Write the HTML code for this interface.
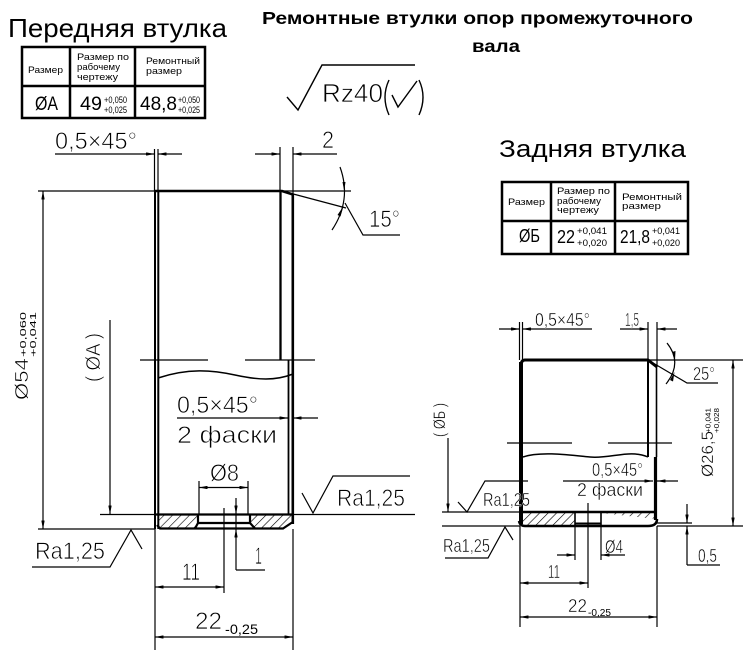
<!DOCTYPE html>
<html><head><meta charset="utf-8"><style>html,body{margin:0;padding:0;background:#fff;}svg{display:block;}</style></head>
<body>
<svg width="750" height="653" viewBox="0 0 750 653" xmlns="http://www.w3.org/2000/svg" font-family="'Liberation Sans', sans-serif">
<defs>
<marker id="ar" viewBox="0 0 10 4" refX="10" refY="2" markerWidth="9" markerHeight="3.4" markerUnits="userSpaceOnUse" orient="auto-start-reverse"><path d="M0,0L10,2L0,4z" fill="#000"/></marker>
<pattern id="h" width="6" height="6" patternUnits="userSpaceOnUse" patternTransform="rotate(45)"><line x1="0" y1="0" x2="0" y2="6" stroke="#000" stroke-width="1.2"/></pattern>
</defs>
<rect width="750" height="653" fill="#fff"/>

<!-- Titles -->
<text x="8" y="37" font-size="26" textLength="219" lengthAdjust="spacingAndGlyphs">Передняя втулка</text>
<text x="262" y="24" font-size="17.5" font-weight="bold" textLength="431" lengthAdjust="spacingAndGlyphs">Ремонтные втулки опор промежуточного</text>
<text x="472" y="52" font-size="17.5" font-weight="bold" textLength="48" lengthAdjust="spacingAndGlyphs">вала</text>
<text x="499" y="157" font-size="24" textLength="187" lengthAdjust="spacingAndGlyphs">Задняя втулка</text>

<!-- Table 1 -->
<g fill="none" stroke="#000" stroke-width="2.5">
<rect x="22" y="47" width="183" height="71"/>
<line x1="70" y1="47" x2="70" y2="118"/>
<line x1="135" y1="47" x2="135" y2="118"/>
<line x1="22" y1="86" x2="205" y2="86"/>
</g>
<g font-size="9.5">
<text x="28" y="73" textLength="35" lengthAdjust="spacingAndGlyphs">Размер</text>
<text x="77" y="60" textLength="52" lengthAdjust="spacingAndGlyphs">Размер по</text>
<text x="77" y="70" textLength="43" lengthAdjust="spacingAndGlyphs">рабочему</text>
<text x="77" y="80" textLength="41" lengthAdjust="spacingAndGlyphs">чертежу</text>
<text x="146" y="64" textLength="54" lengthAdjust="spacingAndGlyphs">Ремонтный</text>
<text x="146" y="74" textLength="36" lengthAdjust="spacingAndGlyphs">размер</text>
</g>
<text x="35" y="110" font-size="19" textLength="23" lengthAdjust="spacingAndGlyphs">ØA</text>
<text x="80" y="110" font-size="19" textLength="22" lengthAdjust="spacingAndGlyphs">49</text>
<text x="104" y="103" font-size="9" textLength="23" lengthAdjust="spacingAndGlyphs">+0,050</text>
<text x="104" y="113" font-size="9" textLength="23" lengthAdjust="spacingAndGlyphs">+0,025</text>
<text x="140" y="110" font-size="19" textLength="37" lengthAdjust="spacingAndGlyphs">48,8</text>
<text x="178" y="103" font-size="9" textLength="22" lengthAdjust="spacingAndGlyphs">+0,050</text>
<text x="178" y="113" font-size="9" textLength="22" lengthAdjust="spacingAndGlyphs">+0,025</text>

<!-- Table 2 -->
<g fill="none" stroke="#000" stroke-width="2.5">
<rect x="502" y="182" width="186" height="72"/>
<line x1="551" y1="182" x2="551" y2="254"/>
<line x1="615" y1="182" x2="615" y2="254"/>
<line x1="502" y1="221" x2="688" y2="221"/>
</g>
<g font-size="9.5">
<text x="508" y="205" textLength="37" lengthAdjust="spacingAndGlyphs">Размер</text>
<text x="557" y="194" textLength="53" lengthAdjust="spacingAndGlyphs">Размер по</text>
<text x="557" y="204" textLength="44" lengthAdjust="spacingAndGlyphs">рабочему</text>
<text x="557" y="213" textLength="42" lengthAdjust="spacingAndGlyphs">чертежу</text>
<text x="622" y="200" textLength="60" lengthAdjust="spacingAndGlyphs">Ремонтный</text>
<text x="622" y="209" textLength="39" lengthAdjust="spacingAndGlyphs">размер</text>
</g>
<text x="519" y="242" font-size="18" textLength="21" lengthAdjust="spacingAndGlyphs">ØБ</text>
<text x="557" y="243" font-size="18" textLength="18" lengthAdjust="spacingAndGlyphs">22</text>
<text x="577" y="234" font-size="9" textLength="30" lengthAdjust="spacingAndGlyphs">+0,041</text>
<text x="577" y="246" font-size="9" textLength="30" lengthAdjust="spacingAndGlyphs">+0,020</text>
<text x="620" y="243" font-size="18" textLength="30" lengthAdjust="spacingAndGlyphs">21,8</text>
<text x="652" y="234" font-size="9" textLength="28" lengthAdjust="spacingAndGlyphs">+0,041</text>
<text x="652" y="246" font-size="9" textLength="28" lengthAdjust="spacingAndGlyphs">+0,020</text>

<!-- Rz40 symbol -->
<g fill="none" stroke="#000" stroke-width="1.4">
<polyline points="287,97 298,110 322,65 415,65"/>
<path d="M389,80 Q381,97 389,115"/>
<path d="M419,80 Q427,97 419,115"/>
<polyline points="392,95 398,107 417,81"/>
</g>
<text x="322" y="102" font-size="26" textLength="61" lengthAdjust="spacingAndGlyphs" stroke="#fff" stroke-width="0.7">Rz40</text>

<!-- ===== LEFT DRAWING ===== -->
<g fill="none" stroke="#000" stroke-width="1.2">
<line x1="38" y1="191" x2="351" y2="191"/>
<line x1="154.5" y1="149" x2="154.5" y2="191"/>
<line x1="158" y1="149" x2="158" y2="191"/>
<line x1="55" y1="154" x2="154.5" y2="154" marker-end="url(#ar)"/>
<line x1="182" y1="154" x2="158" y2="154" marker-end="url(#ar)"/>
<line x1="280" y1="147" x2="280" y2="191"/>
<line x1="293" y1="147" x2="293" y2="194"/>
<line x1="255" y1="154" x2="280" y2="154" marker-end="url(#ar)"/>
<line x1="337" y1="154" x2="293" y2="154" marker-end="url(#ar)"/>
<line x1="282" y1="191" x2="346" y2="208"/>
<polyline points="345,203 363,235 400,235"/>
<path d="M340,167 Q352,200 332,230"/>
<line x1="140" y1="360" x2="208" y2="360"/>
<line x1="245" y1="360" x2="315" y2="360"/>
<line x1="43" y1="191" x2="43" y2="529" marker-start="url(#ar)" marker-end="url(#ar)"/>
<line x1="110" y1="320" x2="110" y2="514" marker-end="url(#ar)"/>
<line x1="38" y1="529" x2="155" y2="529"/>
<line x1="100" y1="514.5" x2="415" y2="514.5"/>
<line x1="177" y1="418" x2="288" y2="418" marker-end="url(#ar)"/>
<line x1="318" y1="418" x2="293" y2="418" marker-end="url(#ar)"/>
<line x1="199" y1="487.5" x2="248" y2="487.5" marker-start="url(#ar)" marker-end="url(#ar)"/>
<line x1="199" y1="481" x2="199" y2="514"/>
<line x1="248" y1="481" x2="248" y2="514"/>
<line x1="224" y1="508" x2="224" y2="593"/>
<line x1="155" y1="587" x2="224" y2="587" marker-start="url(#ar)" marker-end="url(#ar)"/>
<line x1="236" y1="498" x2="236" y2="514" marker-end="url(#ar)"/>
<line x1="236" y1="514" x2="236" y2="529"/>
<line x1="236" y1="570" x2="236" y2="529" marker-end="url(#ar)"/>
<line x1="236" y1="570" x2="265" y2="570"/>
<line x1="155" y1="529" x2="155" y2="650"/>
<line x1="293" y1="529" x2="293" y2="650"/>
<line x1="155" y1="637" x2="293" y2="637" marker-start="url(#ar)" marker-end="url(#ar)"/>
<polyline points="32,567 110,567 131,530 142,549"/>
<polyline points="302,493 313,513 333,476 410,476"/>
</g>
<polygon points="342.5,182 345.5,182 344.2,191" fill="#000"/>
<polygon points="337.5,215 340.5,216.5 343.5,206" fill="#000"/>
<g fill="none" stroke="#000">
<polyline points="155,191 282,191 293,194.5" stroke-width="2.5"/>
<line x1="155" y1="190" x2="155" y2="529" stroke-width="2"/>
<line x1="158.3" y1="191" x2="158.3" y2="529" stroke-width="2"/>
<line x1="280.5" y1="191" x2="280.5" y2="360" stroke-width="2.3"/>
<line x1="292.8" y1="194" x2="292.8" y2="524" stroke-width="2.6"/>
<line x1="288.5" y1="360" x2="288.5" y2="514" stroke-width="1.8"/>
<path d="M158,378 C188,368 212,370 235,375 S275,381 293,374" stroke-width="1.5"/>
</g>
<polygon points="158,514.5 198,514.5 198,523 195,528.5 161,528.5 158,525" fill="url(#h)"/>
<polygon points="250,514.5 292,514.5 292,522 283,528.5 255,528.5 250,523" fill="url(#h)"/>
<g fill="none" stroke="#000" stroke-width="2.2">
<line x1="155" y1="514.5" x2="293" y2="514.5"/>
<polyline points="157,525 160,528.5 283,528.5 292.8,522"/>
<polyline points="198,514.5 198,523 195,528.5"/>
<polyline points="250,514.5 250,523 255,528.5"/>
<line x1="198" y1="523" x2="250" y2="523"/>
</g>

<!-- Left labels -->
<g font-size="24" stroke="#fff" stroke-width="0.7">
<text x="55" y="149" textLength="82" lengthAdjust="spacingAndGlyphs">0,5×45°</text>
<text x="322" y="148" textLength="12" lengthAdjust="spacingAndGlyphs">2</text>
<text x="369" y="227" textLength="31" lengthAdjust="spacingAndGlyphs">15°</text>
<text x="177" y="413" textLength="81" lengthAdjust="spacingAndGlyphs">0,5×45°</text>
<text x="177" y="443" textLength="100" lengthAdjust="spacingAndGlyphs">2 фаски</text>
<text x="210" y="481" textLength="29" lengthAdjust="spacingAndGlyphs">Ø8</text>
<text x="337" y="506" textLength="68" lengthAdjust="spacingAndGlyphs">Ra1,25</text>
<text x="35" y="559" textLength="70" lengthAdjust="spacingAndGlyphs">Ra1,25</text>
<text x="182" y="580" textLength="18" lengthAdjust="spacingAndGlyphs">11</text>
<text x="255" y="564" textLength="7" lengthAdjust="spacingAndGlyphs">1</text>
<text x="195" y="629" textLength="27" lengthAdjust="spacingAndGlyphs">22</text>
</g>
<text x="225" y="634" font-size="14" textLength="33" lengthAdjust="spacingAndGlyphs">-0,25</text>
<g transform="translate(28,400) rotate(-90)">
<text x="0" y="0" font-size="18" textLength="42" lengthAdjust="spacingAndGlyphs" stroke="#fff" stroke-width="0.5">Ø54</text>
<text x="43" y="-2" font-size="8" textLength="45" lengthAdjust="spacingAndGlyphs">+0,060</text>
<text x="43" y="8" font-size="8" textLength="45" lengthAdjust="spacingAndGlyphs">+0,041</text>
</g>
<g transform="translate(100,382) rotate(-90)">
<text x="0" y="0" font-size="20" textLength="49" lengthAdjust="spacingAndGlyphs" stroke="#fff" stroke-width="0.6">( ØA )</text>
</g>

<!-- ===== RIGHT DRAWING ===== -->
<g fill="none" stroke="#000" stroke-width="1.2">
<line x1="519.5" y1="322" x2="519.5" y2="360"/>
<line x1="522.5" y1="322" x2="522.5" y2="360"/>
<line x1="499" y1="329" x2="519.5" y2="329" marker-end="url(#ar)"/>
<line x1="592" y1="329" x2="522.5" y2="329" marker-end="url(#ar)"/>
<line x1="648" y1="322" x2="648" y2="360"/>
<line x1="657" y1="322" x2="657" y2="367"/>
<line x1="620" y1="329" x2="648" y2="329" marker-end="url(#ar)"/>
<line x1="677" y1="329" x2="657" y2="329" marker-end="url(#ar)"/>
<line x1="648" y1="360" x2="743" y2="360"/>
<polyline points="648,360 687,383 718,383"/>
<path d="M667,343 Q683,363 666,384"/>
<line x1="733" y1="360" x2="733" y2="526" marker-start="url(#ar)" marker-end="url(#ar)"/>
<line x1="657" y1="526" x2="743" y2="526"/>
<line x1="657" y1="523" x2="692" y2="523"/>
<line x1="687" y1="504" x2="687" y2="523" marker-end="url(#ar)"/>
<line x1="687" y1="565" x2="687" y2="526" marker-end="url(#ar)"/>
<line x1="687" y1="565" x2="720" y2="565"/>
<line x1="507" y1="443" x2="572" y2="443"/>
<line x1="608" y1="443" x2="672" y2="443"/>
<line x1="448" y1="438" x2="448" y2="512" marker-end="url(#ar)"/>
<line x1="442" y1="512" x2="520" y2="512"/>
<line x1="442" y1="526" x2="520" y2="526"/>
<polyline points="458,502 467,512 485,481 528,481"/>
<polyline points="445,558 488,558 505,527 513,540"/>
<line x1="563" y1="481" x2="653" y2="481" marker-end="url(#ar)"/>
<line x1="678" y1="481" x2="657" y2="481" marker-end="url(#ar)"/>
<line x1="575" y1="526" x2="575" y2="560"/>
<line x1="601" y1="526" x2="601" y2="560"/>
<line x1="557" y1="555" x2="575" y2="555" marker-end="url(#ar)"/>
<line x1="625" y1="555" x2="601" y2="555" marker-end="url(#ar)"/>
<line x1="588" y1="503" x2="588" y2="588"/>
<line x1="520" y1="583" x2="588" y2="583" marker-start="url(#ar)" marker-end="url(#ar)"/>
<line x1="520" y1="526" x2="520" y2="627"/>
<line x1="657" y1="526" x2="657" y2="627"/>
<line x1="520" y1="617" x2="657" y2="617" marker-start="url(#ar)" marker-end="url(#ar)"/>
</g>
<polygon points="672,352 675.5,351 675,360" fill="#000"/>
<polygon points="670,380 673,381.5 674.5,372" fill="#000"/>
<rect x="519" y="362" width="4" height="162" fill="#000"/>
<g fill="none" stroke="#000">
<path d="M521,366 Q521,360 525,360 L648,360 L657,367" stroke-width="3"/>
<line x1="648" y1="360" x2="648" y2="457" stroke-width="2"/>
<line x1="656.5" y1="367" x2="656.5" y2="457" stroke-width="1.6"/>
<line x1="655.5" y1="457" x2="655.5" y2="520" stroke-width="3.2"/>
<path d="M523,457 C540,451 570,455 590,457 S630,449 648,457" stroke-width="1.5"/>
</g>
<polygon points="523,513 575,513 575,525 523,525" fill="url(#h)"/>
<polygon points="601,513 656,513 656,519 Q656,525 648,525 L601,525" fill="url(#h)"/>
<g fill="none" stroke="#000" stroke-width="2.5">
<line x1="519" y1="512" x2="657" y2="512"/>
<path d="M519,521 Q520,526 525,526 L648,526 Q657,526 657,519"/>
<line x1="575" y1="512" x2="575" y2="526" stroke-width="1.6"/>
<line x1="601" y1="512" x2="601" y2="526" stroke-width="1.6"/>
<line x1="575" y1="523.5" x2="601" y2="523.5" stroke-width="2"/>
</g>

<!-- Right labels -->
<g font-size="18" stroke="#fff" stroke-width="0.45">
<text x="535" y="326" textLength="55" lengthAdjust="spacingAndGlyphs">0,5×45°</text>
<text x="625" y="326" textLength="14" lengthAdjust="spacingAndGlyphs">1,5</text>
<text x="693" y="380" textLength="22" lengthAdjust="spacingAndGlyphs">25°</text>
<text x="592" y="476" textLength="51" lengthAdjust="spacingAndGlyphs">0,5×45°</text>
<text x="577" y="496" textLength="66" lengthAdjust="spacingAndGlyphs">2 фаски</text>
<text x="483" y="506" textLength="47" lengthAdjust="spacingAndGlyphs">Ra1,25</text>
<text x="443" y="552" textLength="47" lengthAdjust="spacingAndGlyphs">Ra1,25</text>
<text x="605" y="553" textLength="18" lengthAdjust="spacingAndGlyphs">Ø4</text>
<text x="548" y="578" textLength="12" lengthAdjust="spacingAndGlyphs">11</text>
<text x="568" y="612" textLength="19" lengthAdjust="spacingAndGlyphs">22</text>
<text x="698" y="562" textLength="19" lengthAdjust="spacingAndGlyphs">0,5</text>
</g>
<text x="588" y="616" font-size="10" textLength="23" lengthAdjust="spacingAndGlyphs">-0,25</text>
<g transform="translate(445,437) rotate(-90)">
<text x="0" y="0" font-size="17" textLength="34" lengthAdjust="spacingAndGlyphs" stroke="#fff" stroke-width="0.4">( ØБ )</text>
</g>
<g transform="translate(713,477) rotate(-90)">
<text x="0" y="0" font-size="17" textLength="46" lengthAdjust="spacingAndGlyphs" stroke="#fff" stroke-width="0.4">Ø26,5</text>
<text x="44" y="-2.5" font-size="7.5" textLength="25" lengthAdjust="spacingAndGlyphs">+0,041</text>
<text x="44" y="6" font-size="7.5" textLength="25" lengthAdjust="spacingAndGlyphs">+0,028</text>
</g>
</svg>
</body></html>
